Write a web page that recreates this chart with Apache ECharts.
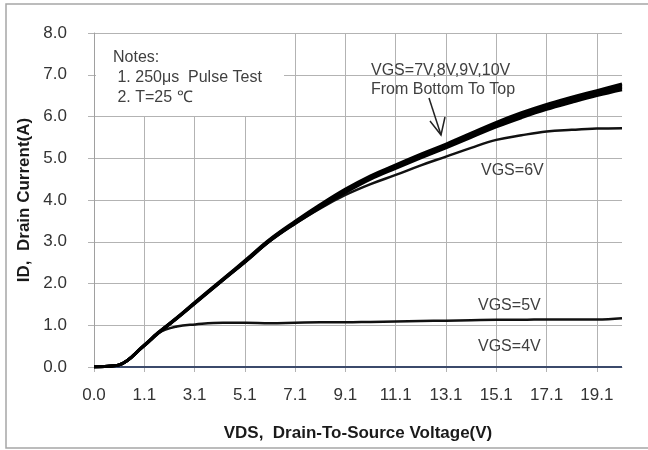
<!DOCTYPE html>
<html>
<head>
<meta charset="utf-8">
<script src="https://cdn.jsdelivr.net/npm/echarts@6/dist/echarts.min.js"></script>
<style>
  html, body { margin: 0; padding: 0; background: #fff; }
  #main { width: 648px; height: 450px; }
</style>
</head>
<body>
<div id="main"></div>
<script>
// VDS sample points (V)
const vds = [0, 0.3, 0.55, 1.1, 1.64, 2.39, 3.13, 4.23, 5.12, 6.1, 7.1, 8.1, 9.1, 10.1, 11.1, 12.1, 13.1, 14.1, 15.1, 16.1, 17.1, 18.1, 19.1, 20.1]

// ID (A) per VGS
const id10V = [0, 0.02, 0.05, 0.53, 0.82, 1.18, 1.56, 2.11, 2.56, 3.06, 3.49, 3.89, 4.26, 4.58, 4.84, 5.1, 5.34, 5.6, 5.86, 6.09, 6.29, 6.46, 6.62, 6.78]
const id9V = [0, 0.02, 0.05, 0.52, 0.81, 1.17, 1.55, 2.1, 2.54, 3.05, 3.47, 3.86, 4.23, 4.55, 4.81, 5.07, 5.31, 5.57, 5.82, 6.05, 6.25, 6.42, 6.58, 6.73]
const id8V = [0, 0.02, 0.05, 0.52, 0.81, 1.17, 1.54, 2.09, 2.53, 3.03, 3.46, 3.84, 4.21, 4.53, 4.79, 5.04, 5.28, 5.54, 5.79, 6.01, 6.21, 6.38, 6.54, 6.69]
const id7V = [0, 0.02, 0.05, 0.51, 0.8, 1.16, 1.53, 2.08, 2.52, 3.02, 3.44, 3.82, 4.18, 4.5, 4.76, 5.01, 5.25, 5.5, 5.75, 5.97, 6.17, 6.34, 6.5, 6.64]
const id6V = [0, 0.02, 0.05, 0.51, 0.8, 1.16, 1.53, 2.08, 2.52, 3.02, 3.43, 3.8, 4.12, 4.38, 4.6, 4.83, 5.04, 5.25, 5.44, 5.55, 5.64, 5.68, 5.71, 5.72]
const id5V = [0, 0.02, 0.05, 0.51, 0.81, 0.97, 1.02, 1.06, 1.06, 1.05, 1.06, 1.07, 1.07, 1.08, 1.09, 1.1, 1.11, 1.12, 1.13, 1.13, 1.14, 1.14, 1.14, 1.17]
const id4V = [0, 0, 0, 0, 0, 0, 0, 0, 0, 0, 0, 0, 0, 0, 0, 0, 0, 0, 0, 0, 0, 0, 0, 0]

// category-style x axis: labels are evenly spaced, first step is 1.1 V, then 2 V
const xTickLabels = ['0.0', '1.1', '3.1', '5.1', '7.1', '9.1', '11.1', '13.1', '15.1', '17.1', '19.1']
const xTickPos = xTickLabels.map((v, i) => i)

function toAxis (v) {
  return v <= 1.1 ? v / 1.1 : 1 + (v - 1.1) / 2
}

function pairs (ys) {
  return vds.map((v, i) => [toAxis(v), ys[i]])
}

const narrow = '"Liberation Sans Narrow", "Liberation Sans", Arial, sans-serif'
const gridColor = '#b3b3b3'

const chart = echarts.init(document.getElementById('main'))

function line (name, ys, color, width) {
  return {
    name: name,
    type: 'line',
    data: pairs(ys),
    smooth: 0.4,
    showSymbol: false,
    lineStyle: { color: color, width: width },
    silent: true
  }
}

const option = {
  animation: false,
  grid: { left: 94, right: 26, top: 33, bottom: 83, outerBoundsMode: 'none' },
  xAxis: {
    type: 'value',
    min: 0,
    max: 10.5,
    interval: 1,
    name: 'VDS,  Drain-To-Source Voltage(V)',
    nameLocation: 'middle',
    nameGap: 58,
    nameTextStyle: { fontFamily: narrow, fontWeight: 'bold', fontSize: 17, color: '#1a1a1a' },
    axisLine: { show: true, lineStyle: { color: '#a0a0a0', width: 1 } },
    axisTick: { show: true, length: 5, customValues: xTickPos, lineStyle: { color: gridColor } },
    axisLabel: {
      customValues: xTickPos,
      margin: 20,
      fontFamily: narrow,
      fontSize: 17,
      color: '#333',
      formatter: (v) => xTickLabels[Math.round(v)] || ''
    },
    splitLine: { show: true, lineStyle: { color: gridColor, width: 1 } }
  },
  yAxis: {
    type: 'value',
    min: 0,
    max: 8,
    interval: 1,
    name: 'ID,  Drain Current(A)',
    nameLocation: 'middle',
    nameGap: 60,
    nameTextStyle: { fontFamily: narrow, fontWeight: 'bold', fontSize: 17, color: '#1a1a1a' },
    axisLine: { show: true, lineStyle: { color: '#a0a0a0', width: 1 } },
    axisTick: { show: true, length: 6, lineStyle: { color: gridColor } },
    axisLabel: {
      margin: 27,
      fontFamily: narrow,
      fontSize: 17,
      color: '#333',
      formatter: (v) => v.toFixed(1)
    },
    splitLine: { show: true, lineStyle: { color: gridColor, width: 1 } }
  },
  series: [
    line('VGS=4V', id4V, '#3b4a6b', 2),
    line('VGS=5V', id5V, '#111', 2.5),
    line('VGS=6V', id6V, '#111', 2.5),
    line('VGS=7V', id7V, '#000', 3),
    line('VGS=8V', id8V, '#000', 3),
    line('VGS=9V', id9V, '#000', 3),
    line('VGS=10V', id10V, '#000', 3)
  ],
  graphic: [
    {
      type: 'rect',
      z: 100,
      silent: true,
      shape: { x: 6, y: 4, width: 660, height: 444 },
      style: { fill: 'none', stroke: '#a6a6a6', lineWidth: 1.5 }
    },
    {
      type: 'rect',
      z: 1,
      silent: true,
      shape: { x: 96, y: 34, width: 188, height: 82 },
      style: { fill: '#fff' }
    },
    {
      type: 'text',
      z: 5,
      left: 113,
      top: 48,
      style: {
        text: 'Notes:\n 1. 250μs  Pulse Test\n 2. T=25 ℃',
        font: '16px ' + narrow,
        fill: '#404040',
        lineHeight: 20
      }
    },
    {
      type: 'text',
      z: 5,
      left: 371,
      top: 61,
      style: {
        text: 'VGS=7V,8V,9V,10V\nFrom Bottom To Top',
        font: '16px ' + narrow,
        fill: '#404040',
        lineHeight: 19
      }
    },
    {
      type: 'polyline',
      z: 5,
      shape: { points: [[429, 98], [441, 135]] },
      style: { stroke: '#222', lineWidth: 1.5 }
    },
    {
      type: 'polyline',
      z: 5,
      shape: { points: [[430, 121], [441, 135], [445, 117]] },
      style: { stroke: '#222', lineWidth: 1.5, fill: 'none' }
    },
    {
      type: 'text', z: 5, left: 481, top: 163,
      style: { text: 'VGS=6V', font: '16px ' + narrow, fill: '#404040' }
    },
    {
      type: 'text', z: 5, left: 478, top: 298,
      style: { text: 'VGS=5V', font: '16px ' + narrow, fill: '#404040' }
    },
    {
      type: 'text', z: 5, left: 478, top: 339,
      style: { text: 'VGS=4V', font: '16px ' + narrow, fill: '#404040' }
    }
  ]
}

chart.setOption(option)
</script>
</body>
</html>
